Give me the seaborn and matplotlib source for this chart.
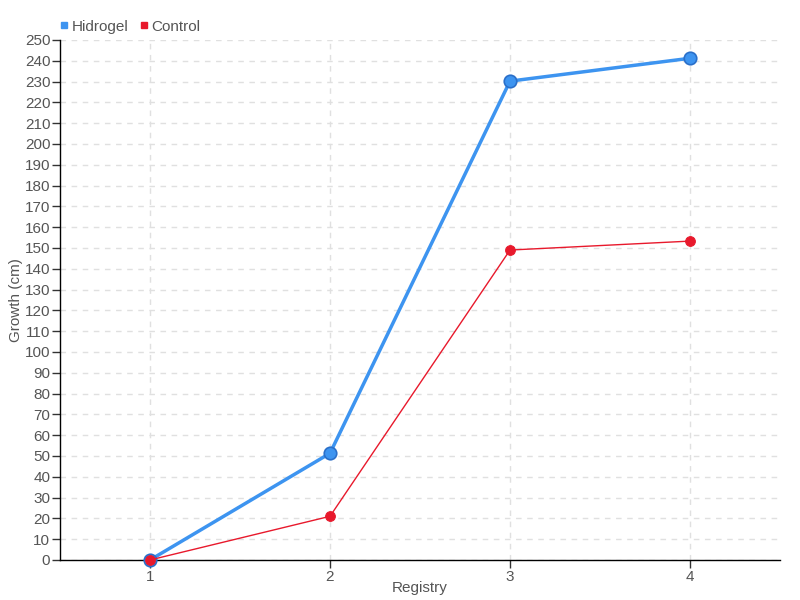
import pandas as pd
import matplotlib.pyplot as plt
import seaborn as sns
from matplotlib.lines import Line2D

registry = [1, 2, 3, 4]
hidrogel = [0, 51.3, 230.2, 241.2]
control = [0, 21, 149, 153.3]

df = pd.DataFrame({'Registry': registry * 2,
                   'Growth': hidrogel + control,
                   'Group': ['Hidrogel'] * 4 + ['Control'] * 4})

sns.set_style('white')
plt.rcParams['font.family'] = ['Liberation Sans', 'DejaVu Sans']
text_col = '#555555'

fig = plt.figure(figsize=(8, 6), dpi=100)
ax = fig.add_axes([0.075, 0.0667, 0.9, 0.8667])

blue = '#3d94f0'
red = '#e8192c'
sns.lineplot(data=df[df['Group'] == 'Hidrogel'], x='Registry', y='Growth', ax=ax,
             color=blue, linewidth=2.5, marker='o', markersize=9,
             markeredgecolor='#2a6fc9', markeredgewidth=1.2, legend=False)
sns.lineplot(data=df[df['Group'] == 'Control'], x='Registry', y='Growth', ax=ax,
             color=red, linewidth=1, marker='o', markersize=7,
             markeredgecolor=red, legend=False)
ax.lines[0].set_zorder(3)
ax.lines[1].set_zorder(4)
for ln in ax.lines:
    ln.set_clip_on(False)

ax.set_xlim(0.5, 4.5)
ax.set_ylim(0, 250)
ax.set_xticks(registry)
ax.set_yticks(range(0, 251, 10))
ax.grid(True, color='#e0e0e0', linestyle=(0, (4, 4)), linewidth=1)
ax.set_axisbelow(True)
for s in ['top', 'right']:
    ax.spines[s].set_visible(False)
for s in ['left', 'bottom']:
    ax.spines[s].set_color('black')
    ax.spines[s].set_linewidth(1)
    ax.spines[s].set_zorder(2)
ax.tick_params(axis='both', which='both', direction='out', length=6, width=1,
               color='#333333', labelcolor=text_col, labelsize=11, pad=1,
               left=True, bottom=True)
ax.set_xlabel('Registry', color=text_col, fontsize=11, labelpad=-2)
ax.set_ylabel('Growth (cm)', color=text_col, fontsize=11, labelpad=1)

handles = [Line2D([], [], linestyle='', marker='s', markersize=5, color=blue),
           Line2D([], [], linestyle='', marker='s', markersize=5, color=red)]
leg = fig.legend(handles, ['Hidrogel', 'Control'], loc='upper left',
                 bbox_to_anchor=(0.055, 0.99), ncol=2, frameon=False,
                 handletextpad=0.1, columnspacing=0.6, handlelength=0.8,
                 fontsize=11)
for t in leg.get_texts():
    t.set_color(text_col)

fig.savefig('out.png', dpi=100)
